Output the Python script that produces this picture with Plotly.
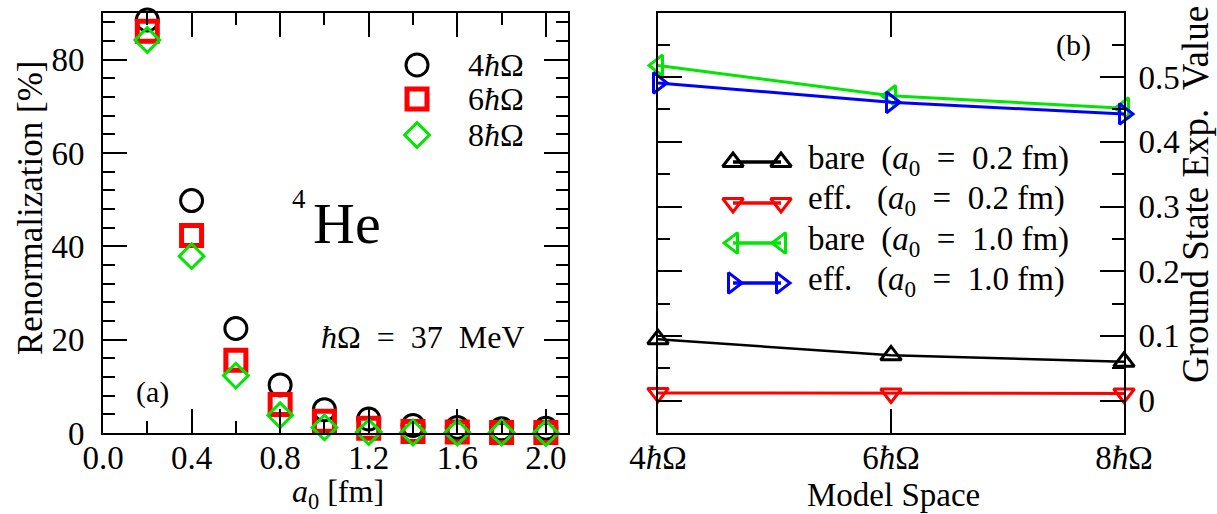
import plotly.graph_objects as go

# ---- panel (a): renormalization vs. a0 for three model spaces ----
a0_fm = [0.2, 0.4, 0.6, 0.8, 1.0, 1.2, 1.4, 1.6, 1.8, 2.0]
renorm_4 = [88.5, 49.8, 22.4, 10.3, 5.0, 3.0, 1.6, 1.2, 0.9, 1.0]
renorm_6 = [86.1, 42.3, 15.6, 6.1, 2.5, 1.0, 0.3, 0.2, 0.1, 0.1]
renorm_8 = [84.2, 37.9, 12.3, 3.8, 1.2, 0.2, 0.1, 0.1, 0.1, 0.0]
series_a_labels = ["4<i>ħ</i>Ω", "6<i>ħ</i>Ω", "8<i>ħ</i>Ω"]

# ---- panel (b): ground state expectation value vs. model space ----
model_space = [4, 6, 8]
model_space_labels = ["4<i>ħ</i>Ω", "6<i>ħ</i>Ω", "8<i>ħ</i>Ω"]
bare_02 = [0.095, 0.070, 0.060]
eff_02 = [0.012, 0.011, 0.011]
bare_10 = [0.518, 0.471, 0.452]
eff_10 = [0.491, 0.461, 0.443]
series_b_labels = [
    "bare\u2002(<i>a</i><sub>0</sub>\u2002=\u20020.2 fm)",
    "eff.\u2002 (<i>a</i><sub>0</sub>\u2002=\u20020.2 fm)",
    "bare\u2002(<i>a</i><sub>0</sub>\u2002=\u20021.0 fm)",
    "eff.\u2002 (<i>a</i><sub>0</sub>\u2002=\u20021.0 fm)",
]

W, H = 1217, 514
FONT = "Liberation Serif"
GREEN = "#00e600"


def fx(x):
    return x / W


def fy(y):
    return 1 - y / H


fig = go.Figure()

# panel (a) data
style_a = [
    (renorm_4, "circle-open", "black", 22, 3),
    (renorm_6, "square-open", "red", 20, 5),
    (renorm_8, "diamond-open", GREEN, 19, 3),
]
for vals, sym, col, size, lw in style_a:
    fig.add_trace(go.Scatter(
        x=a0_fm, y=vals, mode="markers", xaxis="x", yaxis="y",
        marker=dict(symbol=sym, size=size, color=col, line=dict(color=col, width=lw)),
        cliponaxis=False, showlegend=False))

# panel (b) data
style_b = [
    (bare_02, "triangle-up-open", "black", 2.5),
    (eff_02, "triangle-down-open", "red", 3),
    (bare_10, "triangle-left-open", GREEN, 3),
    (eff_10, "triangle-right-open", "blue", 3),
]
TRI = 18
for vals, sym, col, lw in style_b:
    fig.add_trace(go.Scatter(
        x=model_space, y=vals, mode="lines+markers", xaxis="x2", yaxis="y2",
        line=dict(color=col, width=lw),
        marker=dict(symbol=sym, size=TRI, color=col, line=dict(color=col, width=3)),
        cliponaxis=False, showlegend=False))

# legend keys, drawn on a pixel-space overlay
key_a_x = 417
key_a_y = [65, 99, 135]
for (vals, sym, col, size, lw), ky in zip(style_a, key_a_y):
    fig.add_trace(go.Scatter(
        x=[key_a_x], y=[ky], mode="markers", xaxis="x3", yaxis="y3",
        marker=dict(symbol=sym, size=size, color=col, line=dict(color=col, width=lw)),
        cliponaxis=False, showlegend=False, hoverinfo="skip"))

key_b_x = [733, 781]
key_b_y = [162, 203, 243, 283]
for (vals, sym, col, lw), ky in zip(style_b, key_b_y):
    fig.add_trace(go.Scatter(
        x=key_b_x, y=[ky, ky], mode="lines+markers", xaxis="x3", yaxis="y3",
        line=dict(color=col, width=3.5),
        marker=dict(symbol=sym, size=TRI, color=col, line=dict(color=col, width=3)),
        cliponaxis=False, showlegend=False, hoverinfo="skip"))

frame = dict(showline=True, linewidth=2, linecolor="black", mirror="allticks",
             ticks="inside", tickwidth=2, tickcolor="black", showgrid=False,
             zeroline=False, layer="above traces", automargin=False,
             tickfont=dict(family=FONT, size=33, color="black"))

fig.update_layout(
    width=W, height=H,
    margin=dict(l=0, r=0, t=0, b=0, autoexpand=False),
    paper_bgcolor="white", plot_bgcolor="rgba(0,0,0,0)",
    font=dict(family=FONT, color="black"),
    xaxis=dict(domain=[fx(103), fx(568)], anchor="y", range=[0, 2.1],
               tickmode="linear", tick0=0, dtick=0.4, tickformat=".1f", ticklen=24,
               ticklabelstandoff=-6,
               minor=dict(ticks="inside", dtick=0.2, ticklen=12, tickwidth=2, tickcolor="black"),
               **frame),
    yaxis=dict(domain=[fy(433), fy(13)], anchor="x", range=[0, 90],
               tickmode="linear", tick0=0, dtick=20, ticklen=24,
               ticklabelstandoff=10,
               minor=dict(ticks="inside", dtick=4, ticklen=12, tickwidth=2, tickcolor="black"),
               **frame),
    xaxis2=dict(domain=[fx(658), fx(1124)], anchor="y2", range=[4, 8],
                tickmode="array", tickvals=model_space, ticktext=model_space_labels,
                ticklen=24, ticklabelstandoff=-6, **frame),
    yaxis2=dict(domain=[fy(433), fy(13)], anchor="x2", side="right", range=[-0.05, 0.599],
                tickmode="linear", tick0=0, dtick=0.1, ticklen=24,
                ticklabelstandoff=6,
                minor=dict(ticks="inside", dtick=0.05, ticklen=12, tickwidth=2, tickcolor="black"),
                **frame),
    xaxis3=dict(domain=[0, 1], anchor="y3", range=[0, W], visible=False,
                fixedrange=True, automargin=False),
    yaxis3=dict(domain=[0, 1], anchor="x3", range=[H, 0], visible=False,
                fixedrange=True, automargin=False),
)

ann = []


def text(x, y, s, size, xanchor="center", angle=0):
    ann.append(dict(x=fx(x), y=fy(y), xref="paper", yref="paper", text=s,
                    showarrow=False, xanchor=xanchor, yanchor="middle",
                    textangle=angle, font=dict(family=FONT, size=size, color="black")))


# axis titles
text(338, 493, "<i>a</i><sub>0</sub> [fm]", 32)
text(893, 495, "Model Space", 33)
text(30, 208, "Renormalization [%]", 35, angle=-90)
text(1195, 195, "Ground State Exp.\u2002Value", 37, angle=-90)

# panel labels and notes
text(152, 392, "(a)", 30)
text(1073, 45, "(b)", 30)
text(311, 223, "He", 58, xanchor="left")
text(290, 199, "4", 27, xanchor="left")
text(527, 337, "<i>ħ</i>Ω\u2002=\u200237\u2002MeV", 32, xanchor="right")

# legend texts
for lbl, ky in zip(series_a_labels, key_a_y):
    text(466, ky, lbl, 32, xanchor="left")
for lbl, ky in zip(series_b_labels, key_b_y):
    text(806, ky - 2, lbl, 33, xanchor="left")

fig.update_layout(annotations=ann)

fig.write_html("out.html")
